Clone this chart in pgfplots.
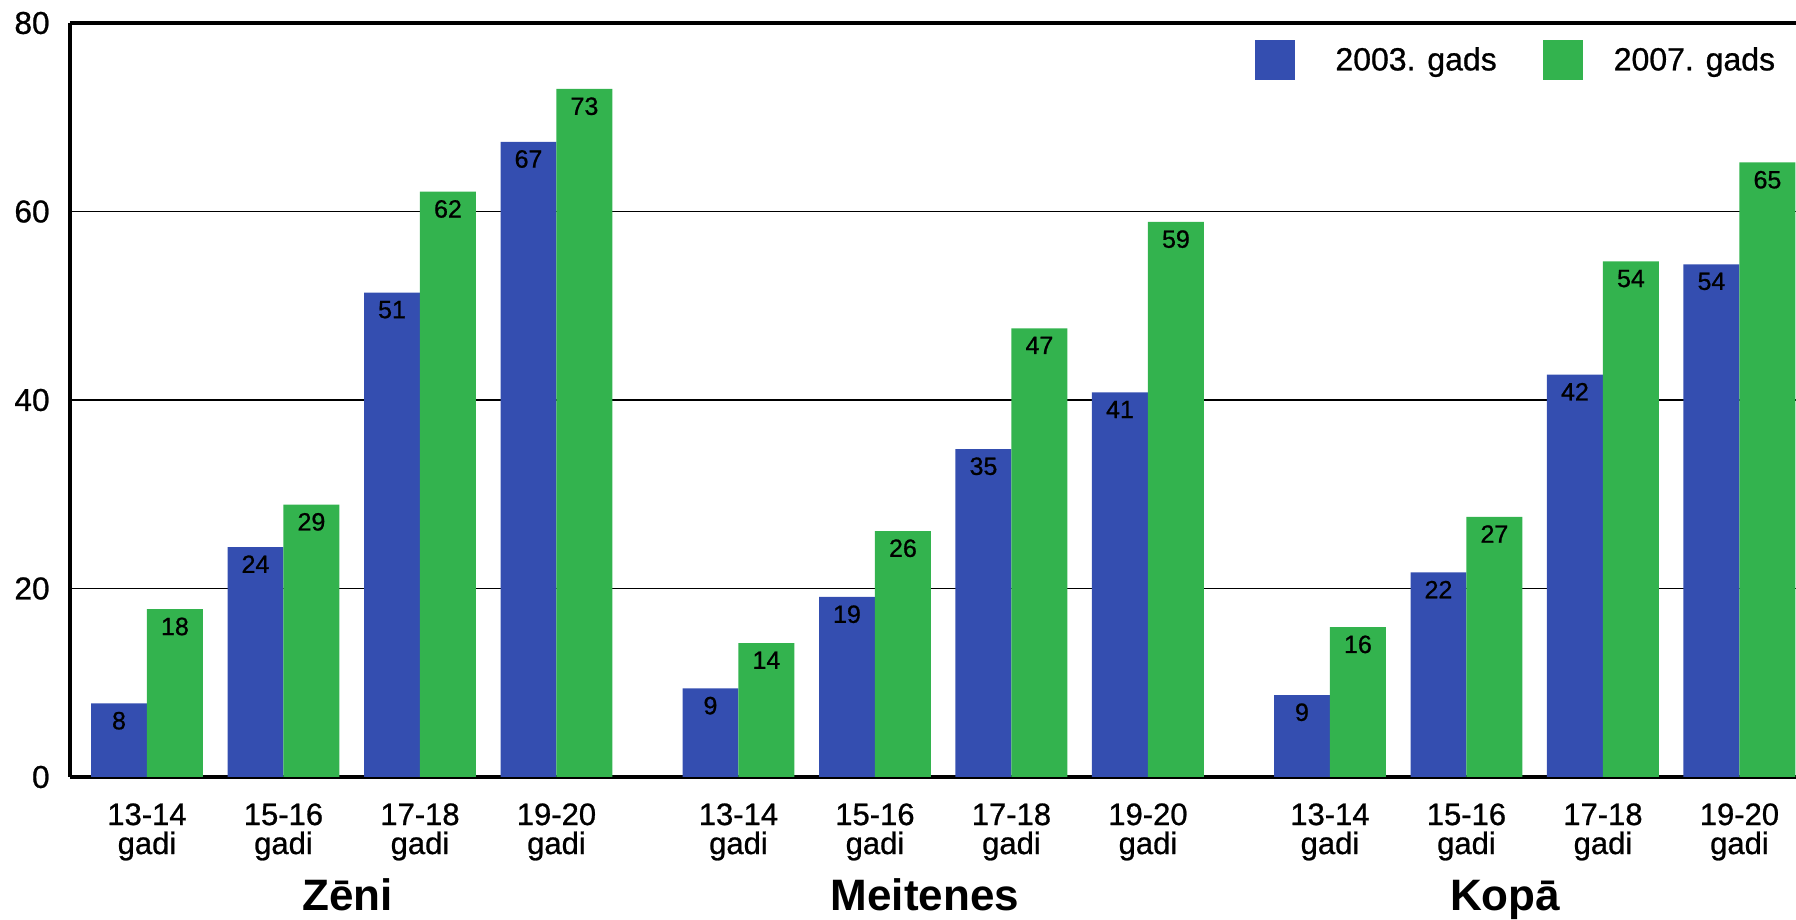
\documentclass[border=0pt]{standalone}
\usepackage{fontspec}
\setmainfont{Liberation Sans}[UprightFeatures={FakeBold=0.8}]
\usepackage{pgfplots}
\pgfplotsset{compat=1.18}
\usepackage{pgfplotstable}
\definecolor{cblue}{RGB}{52,78,176}
\definecolor{cgreen}{RGB}{51,179,78}

\pgfplotstableread{
x y l
0 7.8 8
1 24.4 24
2 51.4 51
3 67.4 67
4.3333 9.4 9
5.3333 19.1 19
6.3333 34.8 35
7.3333 40.8 41
8.6667 8.7 9
9.6667 21.7 22
10.6667 42.7 42
11.6667 54.4 54
}\tblA

\pgfplotstableread{
x y l
0 17.8 18
1 28.9 29
2 62.1 62
3 73.0 73
4.3333 14.2 14
5.3333 26.1 26
6.3333 47.6 47
7.3333 58.9 59
8.6667 15.9 16
9.6667 27.6 27
10.6667 54.7 54
11.6667 65.2 65
}\tblB

\begin{document}
\begin{tikzpicture}
\begin{axis}[
  at={(0,0)}, anchor=south west,
  scale only axis, width=863pt, height=377pt,
  xmin=-0.564, xmax=12.081, ymin=0, ymax=80,
  axis x line*=bottom, axis y line*=left,
  axis line style={line width=2.1pt, black},
  ytick={0,20,40,60,80},
  ymajorgrids, grid style={line width=0.9pt, black},
  extra y ticks={80}, extra y tick labels={},
  extra y tick style={grid style={line width=2.1pt, black}},
  major tick length=0pt,
  xtick={0,1,2,3,4.3333,5.3333,6.3333,7.3333,8.6667,9.6667,10.6667,11.6667},
  xticklabels={{13-14\\gadi},{15-16\\gadi},{17-18\\gadi},{19-20\\gadi},
               {13-14\\gadi},{15-16\\gadi},{17-18\\gadi},{19-20\\gadi},
               {13-14\\gadi},{15-16\\gadi},{17-18\\gadi},{19-20\\gadi}},
  /pgf/number format/assume math mode=true,
  yticklabel style={font=\fontsize{15.8}{18}\selectfont, inner sep=0pt, xshift=-10pt},
  xticklabel style={font=\fontsize{15.5}{14.5}\selectfont, align=center, inner sep=0pt, anchor=north, yshift=-13pt},
  ybar, bar width=0.41,
  clip=false,
  nodes near coords={\pgfplotspointmeta},
  point meta=explicit symbolic,
  nodes near coords align={below},
  every node near coord/.append style={font=\fontsize{12.5}{14}\selectfont, black, inner sep=4pt},
  legend columns=2,
  legend style={draw=none, fill=none, at={(rel axis cs:0.6831,0.9506)}, anchor=west,
    font=\fontsize{16}{19}\selectfont, column sep=20pt,
    /tikz/every even column/.append style={column sep=23pt},
    /tikz/column 3/.append style={column sep=15.5pt},
    nodes={inner sep=0pt}},
  legend cell align=left,
]
\addplot[fill=cblue, draw=none, bar shift=-0.205,
  legend image code/.code={\fill[cblue] (0pt,-10pt) rectangle (20pt,10pt);}]
  table[x=x, y=y, meta=l] {\tblA};
\addplot[fill=cgreen, draw=none, bar shift=0.205,
  legend image code/.code={\fill[cgreen] (0pt,-10pt) rectangle (20pt,10pt);}]
  table[x=x, y=y, meta=l] {\tblB};
\legend{2003. gads, 2007. gads}
\node[font=\bfseries\fontsize{22}{26}\selectfont, anchor=base, yshift=-67pt] at (axis cs:1.47,0) {Zēni};
\node[font=\bfseries\fontsize{22}{26}\selectfont, anchor=base, yshift=-67pt] at (axis cs:5.70,0) {Meitenes};
\node[font=\bfseries\fontsize{22}{26}\selectfont, anchor=base, yshift=-67pt] at (axis cs:9.95,0) {Kopā};
\end{axis}
\pgfresetboundingbox
\useasboundingbox (-35pt,-71.5pt) rectangle (863pt,388.5pt);
\end{tikzpicture}
\end{document}
